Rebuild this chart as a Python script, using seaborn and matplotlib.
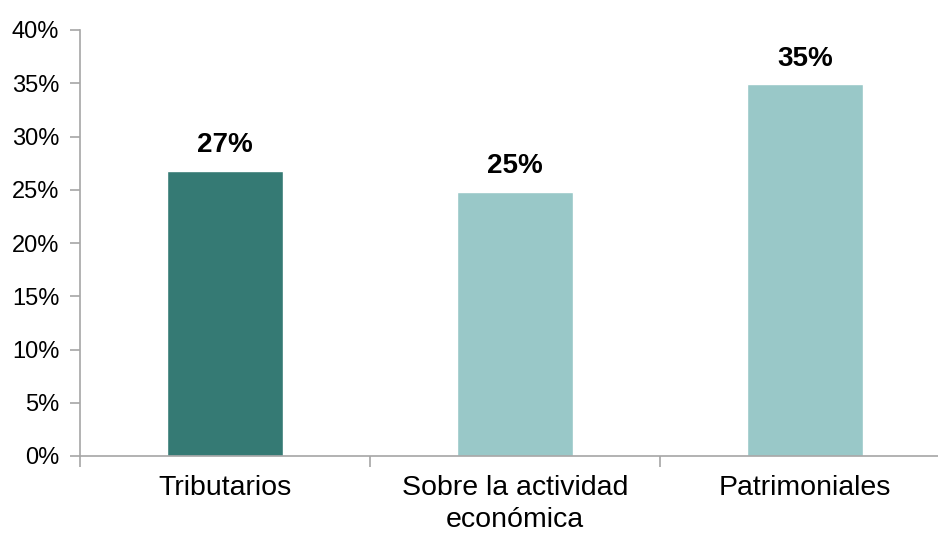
import matplotlib
matplotlib.use("Agg")
import matplotlib.pyplot as plt
import seaborn as sns
import pandas as pd
from matplotlib.ticker import FixedLocator, PercentFormatter

categories = ["Tributarios", "Sobre la actividad\neconómica", "Patrimoniales"]
shares = [26.8, 24.8, 34.9]
bar_colors = ["#357A74", "#99C8C8", "#99C8C8"]
y_ticks = [0, 5, 10, 15, 20, 25, 30, 35, 40]

sns.set_theme(style="white")
plt.rcParams["font.family"] = ["Liberation Sans", "DejaVu Sans"]

df = pd.DataFrame({"categoria": categories, "valor": shares})

fig = plt.figure(figsize=(9.38, 5.33), dpi=100)
W, H = 938, 533
ax = fig.add_axes([80 / W, (H - 456) / H, (950 - 80) / W, (456 - 30) / H])

sns.barplot(data=df, x="categoria", y="valor", hue="categoria",
            palette=bar_colors, width=0.4, legend=False, ax=ax,
            saturation=1)

ax.set_xlim(-0.5, 2.5)
ax.set_ylim(0, 40)
ax.set_xlabel("")
ax.set_ylabel("")

spine_color = "#A6A6A6"
for side in ["top", "right"]:
    ax.spines[side].set_visible(False)
for side in ["left", "bottom"]:
    ax.spines[side].set_color(spine_color)
    ax.spines[side].set_linewidth(1.2)

ax.yaxis.set_major_locator(FixedLocator(y_ticks))
ax.yaxis.set_major_formatter(PercentFormatter(decimals=0))
ax.tick_params(axis="y", which="major", left=True, length=7, width=1.2,
               color=spine_color, labelsize=17, labelcolor="black", pad=8)

# category labels on minor ticks, boundary marks on major ticks
ax.xaxis.set_major_locator(FixedLocator([-0.5, 0.5, 1.5, 2.5]))
ax.xaxis.set_minor_locator(FixedLocator([0, 1, 2]))
ax.set_xticklabels([], minor=False)
ax.set_xticklabels(categories, minor=True)
ax.tick_params(axis="x", which="major", bottom=True, length=8, width=1.2,
               color=spine_color)
ax.tick_params(axis="x", which="minor", bottom=False, length=0,
               labelsize=20.5, labelcolor="black", pad=14)
for lbl in ax.get_xticklabels(minor=True):
    lbl.set_linespacing(1.3)

for i, v in enumerate(shares):
    ax.annotate(f"{v:.0f}%", xy=(i, v), xytext=(0, 9),
                textcoords="offset points", ha="center", va="bottom",
                fontsize=20, fontweight="bold", color="black")

fig.savefig("out.png", dpi=100)
